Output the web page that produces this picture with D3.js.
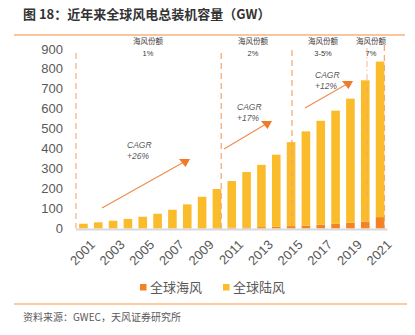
<!DOCTYPE html>
<html>
<head>
<meta charset="utf-8">
<script src="https://cdn.jsdelivr.net/npm/d3@7"></script>
<style>
  body { margin: 0; background: #fff; }
  svg text { font-family: "Liberation Sans", Arial, "Noto Sans CJK SC", sans-serif; }
  .cjk { font-family: "Noto Sans CJK SC", sans-serif; }
</style>
</head>
<body>
<div id="chart"></div>
<script>
const width = 415;
const height = 335;

// 全球风电累计装机（GW）
const years = d3.range(2001, 2022).map(String);
const totals = [24, 31, 39, 48, 59, 74, 94, 121, 159, 198, 238, 283, 319, 370, 433, 487, 540, 591, 651, 743, 837];
const offshore = [0.1, 0.3, 0.5, 0.6, 0.7, 0.9, 1.1, 1.5, 2, 3, 4, 5.4, 7, 8.7, 12, 14.4, 18.8, 23, 29, 35, 57];
const onshore = totals.map((t, i) => t - offshore[i]);
const yTicks = [0, 100, 200, 300, 400, 500, 600, 700, 800, 900];
const xTickLabels = years.filter((d, i) => i % 2 === 0);

const seriesNames = ["全球海风", "全球陆风"];
const colors = ["#F28224", "#FBBC2C"];

// 分段虚线与海风份额标注
const dividers = [
  { year: "2001", at: -0.37, top: 880, dash: "6,4", op: 0.8 },
  { year: "2010", at: 1, top: 880, dash: "6,4", op: 0.9 },
  { year: "2015", at: 0.6, top: 895, dash: "6,4", op: 0.9 },
  { year: "2020", at: 0.7, top: 905, dash: "6,3,1,3", op: 0.6 },
  { year: "2021", at: 1, top: 920, dash: "6,4", op: 0.9 }
];
const shares = [
  { x: 148, label: "1%" },
  { x: 253, label: "2%" },
  { x: 323, label: "3-5%" },
  { x: 371, label: "7%" }
];
const cagr = [
  { label: "+26%", tx: 127, ty: 145, from: [102, 208], to: [184, 162] },
  { label: "+17%", tx: 237, ty: 107, from: [224, 149], to: [266, 124] },
  { label: "+12%", tx: 315, ty: 75, from: [305, 108], to: [347, 84] }
];

const svg = d3.select("#chart").append("svg")
  .attr("width", width)
  .attr("height", height);

// 标题
svg.append("text")
  .attr("class", "cjk")
  .attr("x", 23).attr("y", 19)
  .style("font-size", "13px")
  .style("font-weight", "bold")
  .attr("fill", "#333")
  .text("图 18：近年来全球风电总装机容量（GW）");

svg.append("line")
  .attr("x1", 14).attr("x2", 405)
  .attr("y1", 35).attr("y2", 35)
  .attr("stroke", "#F7B27D").attr("stroke-width", 1.5);

let x = d3.scaleBand()
  .domain(years)
  .range([76, 387.5])
  .paddingInner(0.42)
  .paddingOuter(0.21);

let y = d3.scaleLinear()
  .domain([0, 900])
  .range([228.5, 49]);

// y 轴刻度文字
svg.append("g")
  .selectAll("text")
  .data(yTicks)
  .join("text")
  .attr("x", 63)
  .attr("y", d => y(d))
  .attr("dy", "0.35em")
  .attr("text-anchor", "end")
  .attr("fill", "#595959")
  .style("font-size", "13px")
  .text(d => d);

// 堆叠柱
const table = years.map((yr, i) => ({ year: yr, off: offshore[i], on: onshore[i] }));
const stack = d3.stack().keys(["off", "on"])(table);

svg.append("g")
  .selectAll("g")
  .data(stack)
  .join("g")
  .attr("fill", (d, i) => colors[i])
  .selectAll("rect")
  .data(d => d)
  .join("rect")
  .attr("x", d => x(d.data.year))
  .attr("width", x.bandwidth())
  .attr("y", d => y(d[1]))
  .attr("height", d => y(d[0]) - y(d[1]));

// x 轴
svg.append("line")
  .attr("x1", 76).attr("x2", 387.5)
  .attr("y1", 229.5).attr("y2", 229.5)
  .attr("stroke", "#D9D9D9").attr("stroke-width", 2);

svg.append("g")
  .selectAll("text")
  .data(xTickLabels)
  .join("text")
  .attr("text-anchor", "end")
  .attr("transform", d => `translate(${x(d) + x.bandwidth() / 2 + 6}, 239) rotate(-45)`)
  .attr("dy", "0.7em")
  .attr("fill", "#595959")
  .style("font-size", "13px")
  .text(d => d);

// 虚线
svg.append("g")
  .selectAll("line")
  .data(dividers)
  .join("line")
  .attr("x1", d => x(d.year) + x.bandwidth() * d.at)
  .attr("x2", d => x(d.year) + x.bandwidth() * d.at)
  .attr("y1", d => y(d.top))
  .attr("y2", y(0))
  .attr("stroke", "#F2A46C")
  .attr("stroke-width", 1.3)
  .attr("stroke-dasharray", d => d.dash)
  .attr("opacity", d => d.op);

// 海风份额
const shareG = svg.append("g").attr("class", "cjk")
  .attr("fill", "#404040")
  .style("font-size", "7.5px")
  .attr("text-anchor", "middle");
shareG.selectAll(".t1")
  .data(shares)
  .join("text")
  .attr("class", "t1")
  .attr("x", d => d.x).attr("y", 44)
  .text("海风份额");
shareG.selectAll(".t2")
  .data(shares)
  .join("text")
  .attr("class", "t2")
  .attr("x", d => d.x).attr("y", 56)
  .text(d => d.label);

// CAGR 箭头
const cg = svg.append("g");
cg.selectAll("line")
  .data(cagr)
  .join("line")
  .attr("x1", d => d.from[0]).attr("y1", d => d.from[1])
  .attr("x2", d => d.to[0]).attr("y2", d => d.to[1])
  .attr("stroke", "#F08A4B").attr("stroke-width", 1.1);
cg.selectAll("path")
  .data(cagr)
  .join("path")
  .attr("d", d => `M${d.to[0] - 5},${d.to[1] - 3} L${d.to[0] + 6},${d.to[1] - 3} L${d.to[0] + 1.5},${d.to[1] + 5} Z`)
  .attr("fill", "#EE7A2A");
cg.selectAll(".c1")
  .data(cagr)
  .join("text")
  .attr("class", "c1")
  .attr("x", d => d.tx).attr("y", d => d.ty + 3)
  .attr("fill", "#595959")
  .style("font-size", "8.5px")
  .style("font-style", "italic")
  .text("CAGR");
cg.selectAll(".c2")
  .data(cagr)
  .join("text")
  .attr("class", "c2")
  .attr("x", d => d.tx).attr("y", d => d.ty + 14)
  .attr("fill", "#595959")
  .style("font-size", "8.5px")
  .style("font-style", "italic")
  .text(d => d.label);

// 图例
const legend = svg.append("g")
  .selectAll("g")
  .data(seriesNames)
  .join("g")
  .attr("transform", (d, i) => `translate(${140 + i * 83}, 284)`);
legend.append("rect")
  .attr("width", 6.5).attr("height", 6.5)
  .attr("fill", (d, i) => colors[i]);
legend.append("text")
  .attr("class", "cjk")
  .attr("x", 10).attr("y", 3.5)
  .attr("dy", "0.35em")
  .attr("fill", "#595959")
  .style("font-size", "13px")
  .text(d => d);

// 底部来源
svg.append("line")
  .attr("x1", 14).attr("x2", 407)
  .attr("y1", 304).attr("y2", 304)
  .attr("stroke", "#F59A3E").attr("stroke-width", 1.2);

svg.append("text")
  .attr("class", "cjk")
  .attr("x", 23).attr("y", 321)
  .attr("fill", "#595959")
  .style("font-size", "10px")
  .text("资料来源：GWEC，天风证券研究所");
</script>
</body>
</html>
